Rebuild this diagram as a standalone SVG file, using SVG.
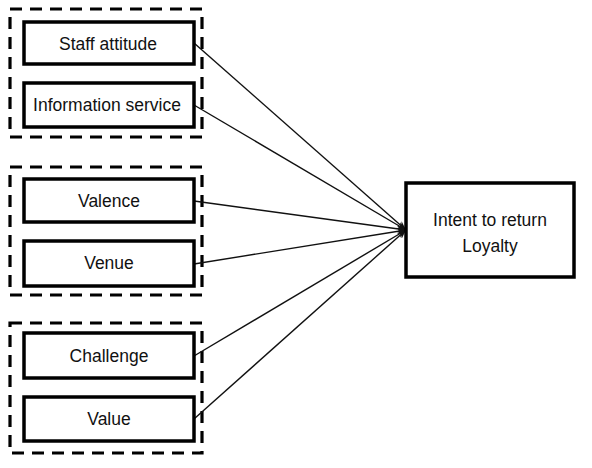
<svg xmlns="http://www.w3.org/2000/svg" width="592" height="468" viewBox="0 0 592 468">
<style>
.box{fill:#fff;stroke:#000;stroke-width:3.5}
.grp{fill:none;stroke:#000;stroke-width:3.2;stroke-dasharray:12 8}
.lbl{font-family:"Liberation Sans",Arial,sans-serif;font-size:17.5px;fill:#111;text-anchor:middle}
.edge{fill:none;stroke:#111;stroke-width:1.4}
</style>
<defs>
<marker id="arr" viewBox="0 0 10 10" refX="10" refY="5" markerWidth="9" markerHeight="9" markerUnits="userSpaceOnUse" orient="auto">
<path d="M0,1 L10,5 L0,9 L3,5 Z" fill="#111"/>
</marker>
</defs>
<rect width="592" height="468" fill="#fff"/>
<g id="group1"><rect class="grp" x="10" y="9" width="192" height="128"/></g>
<g id="group2"><rect class="grp" x="10" y="167" width="192" height="128"/></g>
<g id="group3"><rect class="grp" x="10" y="323" width="192" height="130"/></g>
<g id="connectors">
<line class="edge" x1="194" y1="43" x2="406" y2="230" marker-end="url(#arr)"/>
<line class="edge" x1="194" y1="105" x2="406" y2="230" marker-end="url(#arr)"/>
<line class="edge" x1="194" y1="201" x2="406" y2="230" marker-end="url(#arr)"/>
<line class="edge" x1="194" y1="264" x2="406" y2="230" marker-end="url(#arr)"/>
<line class="edge" x1="194" y1="356" x2="406" y2="230" marker-end="url(#arr)"/>
<line class="edge" x1="194" y1="419" x2="406" y2="230" marker-end="url(#arr)"/>
</g>
<g id="staff"><rect class="box" x="24" y="22" width="170" height="42"/><text class="lbl" x="108" y="49.5">Staff attitude</text></g>
<g id="info"><rect class="box" x="24" y="83" width="170" height="44"/><text class="lbl" x="107" y="111">Information service</text></g>
<g id="valence"><rect class="box" x="24" y="179" width="170" height="43"/><text class="lbl" x="109" y="207">Valence</text></g>
<g id="venue"><rect class="box" x="24" y="241" width="170" height="45"/><text class="lbl" x="109" y="269">Venue</text></g>
<g id="challenge"><rect class="box" x="24" y="333" width="170" height="45"/><text class="lbl" x="109" y="362">Challenge</text></g>
<g id="value"><rect class="box" x="24" y="397" width="170" height="44"/><text class="lbl" x="109" y="425">Value</text></g>
<g id="intent"><rect class="box" x="406" y="183" width="168" height="94"/><text class="lbl" x="490" y="226">Intent to return</text><text class="lbl" x="490" y="252">Loyalty</text></g>
</svg>
